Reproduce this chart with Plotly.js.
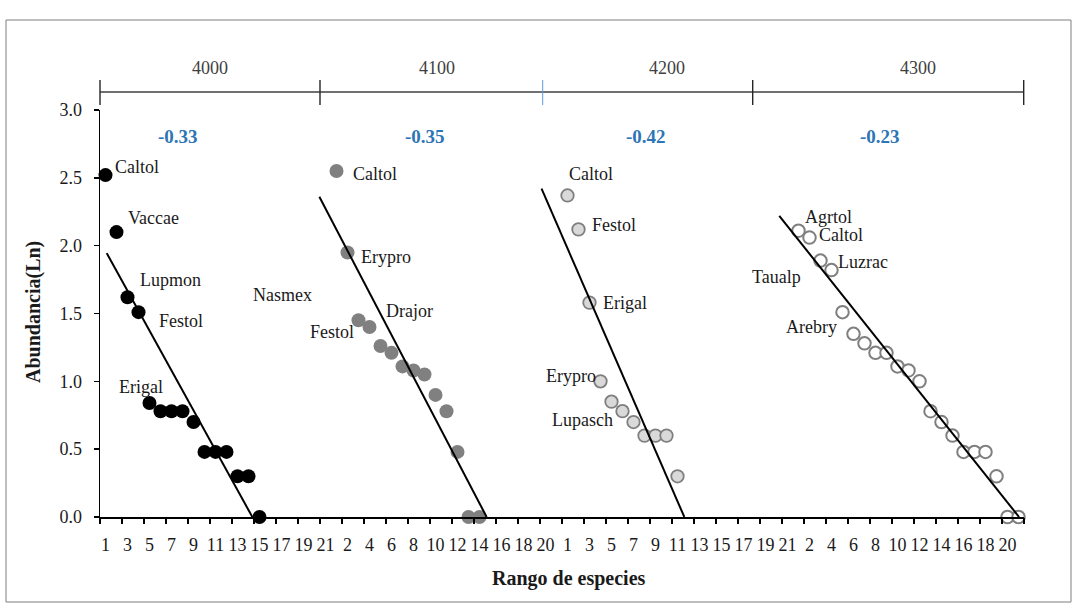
<!DOCTYPE html>
<html>
<head>
<meta charset="utf-8">
<script src="https://cdn.plot.ly/plotly-3.0.1.min.js"></script>
<style>
  html, body { margin: 0; padding: 0; background: #ffffff; }
  #chart { width: 1077px; height: 605px; }
</style>
</head>
<body>
<div id="chart"></div>
<script>
// ---------------- DATA ----------------
const panelNames = ['4000', '4100', '4200', '4300'];
const slopeLabels = ['-0.33', '-0.35', '-0.42', '-0.23'];
const rankLabels = [1, 2, 3, 4, 5, 6, 7, 8, 9, 10, 11, 12, 13, 14, 15, 16, 17, 18, 19, 20, 21];

const abund4000 = [2.52, 2.10, 1.62, 1.51, 0.84, 0.78, 0.78, 0.78, 0.70, 0.48, 0.48, 0.48, 0.30, 0.30, 0.00];
const abund4100 = [2.55, 1.95, 1.45, 1.40, 1.26, 1.21, 1.11, 1.08, 1.05, 0.90, 0.78, 0.48, 0.00, 0.00];
const abund4200 = [2.37, 2.12, 1.58, 1.00, 0.85, 0.78, 0.70, 0.60, 0.60, 0.60, 0.30];
const abund4300 = [2.11, 2.06, 1.89, 1.82, 1.51, 1.35, 1.28, 1.21, 1.21, 1.11, 1.08, 1.00, 0.78, 0.70, 0.60, 0.48, 0.48, 0.48, 0.30, 0.00, 0.00];

// fitted lines (rank, abundance)
const trendRankStart = [1.11, -0.56, -1.36, -0.75];
const trendRankEnd   = [14.35, 14.65, 11.62, 21.05];
const trendAbStart   = [1.945, 2.36, 2.42, 2.22];
const trendAbEnd     = [0, 0, 0, 0];

// species names attached to (panel, rank)
const labelText  = ['Caltol', 'Vaccae', 'Lupmon', 'Festol', 'Erigal',
                    'Caltol', 'Erypro', 'Festol', 'Drajor', 'Nasmex',
                    'Caltol', 'Festol', 'Erigal', 'Erypro', 'Lupasch',
                    'Agrtol', 'Caltol', 'Luzrac', 'Taualp', 'Arebry'];
const labelPanel = [0, 0, 0, 0, 0, 1, 1, 1, 1, 1, 2, 2, 2, 2, 2, 3, 3, 3, 3, 3];
const labelRank  = [1, 2, 3, 4, 5, 1, 2, 3, 4, 3, 1, 2, 3, 4, 5, 1, 2, 4, 3, 5];

// ---------------- LAYOUT HELPERS (positions / styles) ----------------
const W = 1077, H = 605;
const M = {l: 100, r: 53, t: 110, b: 88};
const PW = W - M.l - M.r, PH = H - M.t - M.b;
const nPer = rankLabels.length;         // categories per panel
const pxX = px => (px - M.l) / PW;      // pixel -> paper
const pxY = py => (H - M.b - py) / PH;
const gx = (p, r) => p * nPer + r - 1;  // global category position

const labelDx = [9.5, 11.5, 12.5, 20.5, -30.5, 16.5, 13.5, -48.5, 16.5, -105.5,
                 1.5, 13.5, 13.5, -53.8, -59.2, 6.5, 9.5, 6.8, -67.8, -55.8];
const labelDy = [-8, -14, -17, 9, -16, 3, 4.6, 11.7, -16, -25,
                 -21.5, -4.4, 0.4, -5.3, 18.3, -14, -2.5, -8.4, 16.7, 14.5];
const labelPad = 2.5;

const series = [abund4000, abund4100, abund4200, abund4300];
const markerStyles = [
  {color: '#000000', size: 14, line: {width: 0}},
  {color: '#808080', size: 14, line: {width: 0}},
  {color: '#d9d9d9', size: 12.5, line: {color: '#7f7f7f', width: 1.8}},
  {color: '#ffffff', size: 12.5, line: {color: '#7f7f7f', width: 2}}
];

const traces = [];
series.forEach((vals, p) => {
  traces.push({
    type: 'scatter', mode: 'markers',
    x: vals.map((v, i) => gx(p, rankLabels[i])),
    y: vals,
    marker: markerStyles[p],
    cliponaxis: false, showlegend: false, hoverinfo: 'x+y'
  });
});
for (let p = 0; p < 4; p++) {
  traces.push({
    type: 'scatter', mode: 'lines',
    x: [gx(p, trendRankStart[p]), gx(p, trendRankEnd[p])],
    y: [trendAbStart[p], trendAbEnd[p]],
    line: {color: '#000000', width: 2},
    cliponaxis: false, showlegend: false, hoverinfo: 'skip'
  });
}
// dummy trace so the tick-mark axis is drawn
traces.push({type: 'scatter', mode: 'markers', x: [], y: [], xaxis: 'x2', yaxis: 'y',
             showlegend: false, hoverinfo: 'skip'});

// tick labels on every second category
const tickvals = [], ticktext = [];
const tickMarks = [];
for (let p = 0; p < 4; p++) {
  rankLabels.forEach((r, i) => {
    const g = gx(p, r);
    if (g % 2 === 0) { tickvals.push(g); ticktext.push(String(r)); }
  });
}
for (let g = -0.5; g <= 4 * nPer - 0.5 + 1e-9; g += 2) tickMarks.push(g);

const serif = 'Liberation Serif, Times New Roman, serif';

const annotations = [];
labelText.forEach((t, i) => {
  const p = labelPanel[i], r = labelRank[i];
  annotations.push({
    x: gx(p, r), y: series[p][r - 1], xref: 'x', yref: 'y',
    text: t, showarrow: false, xanchor: 'left', yanchor: 'middle',
    xshift: labelDx[i] - labelPad, yshift: -labelDy[i],
    font: {family: serif, size: 18, color: '#1a1a1a'}
  });
});

// upper grouping axis (altitude classes) and slopes
const groupEdges = [100, 320, 542.7, 752.7, 1023.7];
const groupCenters = [210, 437, 667, 918];
const slopeCenters = [178, 425, 646, 880];
const shapes = [];
shapes.push({type: 'line', xref: 'paper', yref: 'paper',
  x0: pxX(groupEdges[0]), x1: pxX(groupEdges[4]), y0: pxY(92), y1: pxY(92),
  line: {color: '#404040', width: 1.3}});
groupEdges.forEach((e, i) => {
  shapes.push({type: 'line', xref: 'paper', yref: 'paper',
    x0: pxX(e), x1: pxX(e), y0: pxY(80), y1: pxY(105),
    line: {color: i === 2 ? '#5b9bd5' : '#262626', width: i === 2 ? 1 : 1.4}});
});
// chart frame
shapes.push({type: 'rect', xref: 'paper', yref: 'paper',
  x0: pxX(6), x1: pxX(1071), y0: pxY(602), y1: pxY(20),
  line: {color: '#7f7f7f', width: 1}});

panelNames.forEach((n, i) => {
  annotations.push({xref: 'paper', yref: 'paper', x: pxX(groupCenters[i]), y: pxY(68),
    text: n, showarrow: false, xanchor: 'center', yanchor: 'middle',
    font: {family: serif, size: 18, color: '#404040'}});
  annotations.push({xref: 'paper', yref: 'paper', x: pxX(slopeCenters[i]), y: pxY(136),
    text: '<b>' + slopeLabels[i] + '</b>', showarrow: false, xanchor: 'center', yanchor: 'middle',
    font: {family: serif, size: 19, color: '#2e75b6'}});
});
annotations.push({xref: 'paper', yref: 'paper', x: pxX(569), y: pxY(578),
  text: '<b>Rango de especies</b>', showarrow: false, xanchor: 'center', yanchor: 'middle',
  font: {family: serif, size: 20, color: '#1a1a1a'}});
annotations.push({xref: 'paper', yref: 'paper', x: pxX(33), y: pxY(312),
  text: '<b>Abundancia(Ln)</b>', showarrow: false, textangle: -90,
  xanchor: 'center', yanchor: 'middle',
  font: {family: serif, size: 20, color: '#1a1a1a'}});

const layout = {
  width: W, height: H,
  margin: M,
  paper_bgcolor: '#ffffff', plot_bgcolor: '#ffffff',
  showlegend: false,
  xaxis: {
    range: [-0.5, 4 * nPer - 0.5], showgrid: false, zeroline: false,
    showline: true, linecolor: '#000000', linewidth: 2,
    tickmode: 'array', tickvals: tickvals, ticktext: ticktext,
    ticks: '', ticklabelstandoff: 10,
    tickfont: {family: serif, size: 18, color: '#1a1a1a'}
  },
  xaxis2: {
    overlaying: 'x', anchor: 'y', side: 'bottom',
    range: [-0.5, 4 * nPer - 0.5], showgrid: false, zeroline: false, showline: false,
    tickmode: 'array', tickvals: tickMarks, ticks: 'outside', ticklen: 6,
    tickwidth: 1.5, tickcolor: '#000000', showticklabels: false
  },
  yaxis: {
    range: [0, 3], dtick: 0.5, tickformat: '.1f', showgrid: false, zeroline: false,
    showline: true, linecolor: '#000000', linewidth: 1.5,
    ticks: 'outside', ticklen: 5, tickwidth: 1.5, tickcolor: '#000000',
    ticklabelstandoff: 8,
    tickfont: {family: serif, size: 18, color: '#1a1a1a'}
  },
  shapes: shapes,
  annotations: annotations
};

Plotly.newPlot('chart', traces, layout, {displayModeBar: false, staticPlot: true});
</script>
</body>
</html>
